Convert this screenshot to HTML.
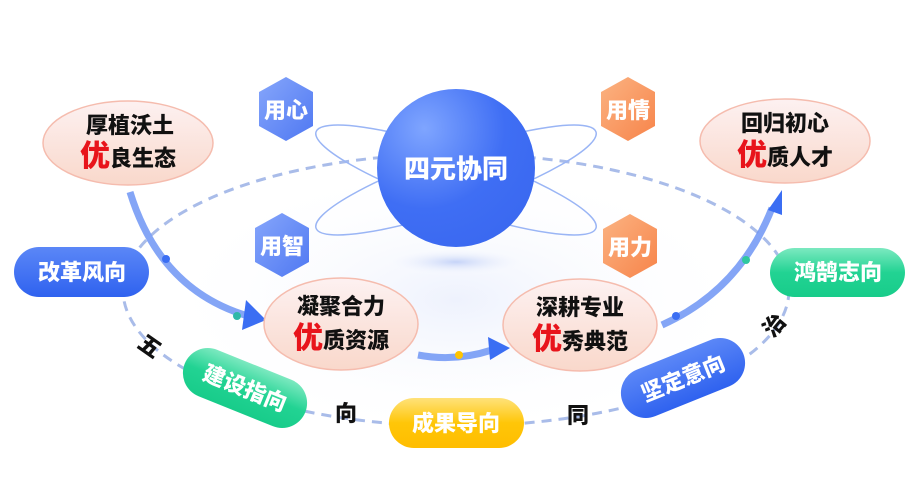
<!DOCTYPE html>
<html><head><meta charset="utf-8"><style>
html,body{margin:0;padding:0;background:#fff;}
svg{display:block;font-family:"Liberation Sans","Noto Sans CJK SC",sans-serif;font-weight:900;}
</style></head><body>
<svg width="919" height="482" viewBox="0 0 919 482" xmlns="http://www.w3.org/2000/svg">
<defs>
<linearGradient id="pink" x1="0" y1="0" x2="0" y2="1"><stop offset="0" stop-color="#fdf1f1"/><stop offset="1" stop-color="#f9d8cb"/></linearGradient>
<linearGradient id="hexb" x1="0" y1="0" x2="1" y2="1"><stop offset="0" stop-color="#86a6fb"/><stop offset="1" stop-color="#4f78f2"/></linearGradient>
<linearGradient id="hexo" x1="0" y1="0" x2="1" y2="1"><stop offset="0" stop-color="#fbb382"/><stop offset="1" stop-color="#f7844a"/></linearGradient>
<radialGradient id="circ" cx="0.3" cy="0.25" r="0.85"><stop offset="0" stop-color="#7fa5ff"/><stop offset="0.6" stop-color="#3f6ef4"/><stop offset="1" stop-color="#3a68f0"/></radialGradient>
<linearGradient id="pb" x1="0" y1="0" x2="0" y2="1"><stop offset="0" stop-color="#5b87f7"/><stop offset="1" stop-color="#2f62ef"/></linearGradient>
<linearGradient id="pg" x1="0" y1="0" x2="0" y2="1"><stop offset="0" stop-color="#7ce9c0"/><stop offset="0.5" stop-color="#22d393"/><stop offset="1" stop-color="#18cc8a"/></linearGradient>
<linearGradient id="py" x1="0" y1="0" x2="0" y2="1"><stop offset="0" stop-color="#ffe27a"/><stop offset="0.5" stop-color="#ffc608"/><stop offset="1" stop-color="#ffbd00"/></linearGradient>
<radialGradient id="glow" cx="0.5" cy="0.5" r="0.5"><stop offset="0" stop-color="#eef2fd"/><stop offset="1" stop-color="#ffffff" stop-opacity="0"/></radialGradient>
<radialGradient id="shad" cx="0.5" cy="0.5" r="0.5"><stop offset="0" stop-color="#c5d3f8"/><stop offset="1" stop-color="#ffffff" stop-opacity="0"/></radialGradient>
</defs>
<ellipse cx="456" cy="300" rx="300" ry="140" fill="url(#glow)"/>
<ellipse cx="456" cy="290" rx="333" ry="136" fill="none" stroke="#a9bce9" stroke-width="3" stroke-dasharray="10 7"/>
<ellipse cx="456" cy="262" rx="75" ry="14" fill="url(#shad)"/>
<ellipse cx="456" cy="180" rx="148" ry="28" transform="rotate(19 456 180)" fill="none" stroke="#9ab5f5" stroke-width="1.5"/>
<ellipse cx="456" cy="180" rx="148" ry="28" transform="rotate(-19 456 180)" fill="none" stroke="#9ab5f5" stroke-width="1.5"/>
<circle cx="456" cy="168" r="79" fill="url(#circ)"/>
<text x="456" y="178" font-size="26" fill="#fff" text-anchor="middle">四元协同</text>
<g>
<polygon points="286,77 313,92 313,126 286,141 259,126 259,92" fill="url(#hexb)"/>
<text x="286" y="118" font-size="22" fill="#fff" text-anchor="middle">用心</text>
<polygon points="282,213 309,228 309,262 282,277 255,262 255,228" fill="url(#hexb)"/>
<text x="282" y="254" font-size="22" fill="#fff" text-anchor="middle">用智</text>
<polygon points="628,77 655,92 655,126 628,141 601,126 601,92" fill="url(#hexo)"/>
<text x="628" y="118" font-size="22" fill="#fff" text-anchor="middle">用情</text>
<polygon points="630,214 657,229 657,263 630,278 603,263 603,229" fill="url(#hexo)"/>
<text x="630" y="255" font-size="22" fill="#fff" text-anchor="middle">用力</text>
</g>
<g fill="none" stroke="#6f95f5" stroke-width="7" stroke-opacity="0.85">
<path d="M130,192 Q160,290 248,316"/>
<path d="M418,355 Q455,362 492,350"/>
<path d="M662,325 Q740,290 772,208"/>
</g>
<polygon points="246,300 266,320 242,330" fill="#3b6ef3"/>
<polygon points="488,337 510,348 490,360" fill="#3b6ef3"/>
<polygon points="768,210 782,190 782,215" fill="#3b6ef3"/>
<circle cx="166" cy="259" r="4" fill="#3b6ef3"/>
<circle cx="237" cy="316" r="4" fill="#2fb8a8"/>
<circle cx="459" cy="355" r="4" fill="#ffc400"/>
<circle cx="676" cy="316" r="4" fill="#3b6ef3"/>
<circle cx="746" cy="260" r="4" fill="#2fc8a0"/>
<ellipse cx="128" cy="143" rx="85" ry="42" fill="url(#pink)" stroke="#f5bcae" stroke-width="1.5"/>
<text x="130" y="133" font-size="22" fill="#111" text-anchor="middle">厚植沃土</text>
<text x="128" y="166" font-size="22" fill="#111" text-anchor="middle"><tspan fill="#e8141b" font-size="30">优</tspan>良生态</text>
<ellipse cx="341" cy="324" rx="77" ry="46" fill="url(#pink)" stroke="#f5bcae" stroke-width="1.5"/>
<text x="341" y="314" font-size="22" fill="#111" text-anchor="middle">凝聚合力</text>
<text x="341" y="348" font-size="22" fill="#111" text-anchor="middle"><tspan fill="#e8141b" font-size="30">优</tspan>质资源</text>
<ellipse cx="580" cy="325" rx="77" ry="46" fill="url(#pink)" stroke="#f5bcae" stroke-width="1.5"/>
<text x="580" y="315" font-size="22" fill="#111" text-anchor="middle">深耕专业</text>
<text x="580" y="349" font-size="22" fill="#111" text-anchor="middle"><tspan fill="#e8141b" font-size="30">优</tspan>秀典范</text>
<ellipse cx="785" cy="141" rx="85" ry="42" fill="url(#pink)" stroke="#f5bcae" stroke-width="1.5"/>
<text x="785" y="131" font-size="22" fill="#111" text-anchor="middle">回归初心</text>
<text x="785" y="165" font-size="22" fill="#111" text-anchor="middle"><tspan fill="#e8141b" font-size="30">优</tspan>质人才</text>
<rect x="14" y="247" width="135" height="50" rx="25" fill="url(#pb)"/>
<text x="82" y="280" font-size="22" fill="#fff" text-anchor="middle">改革风向</text>
<rect x="770" y="248" width="135" height="49" rx="24.5" fill="url(#pg)"/>
<text x="838" y="280" font-size="22" fill="#fff" text-anchor="middle">鸿鹄志向</text>
<rect x="389" y="398" width="135" height="50" rx="25" fill="url(#py)"/>
<text x="456" y="431" font-size="22" fill="#fff" text-anchor="middle">成果导向</text>
<g transform="rotate(22 245 388)">
<rect x="180" y="363" width="130" height="50" rx="25" fill="url(#pg)"/>
<text x="245" y="396" font-size="22" fill="#fff" text-anchor="middle">建设指向</text>
</g>
<g transform="rotate(-22 683 378)">
<rect x="618" y="353" width="130" height="50" rx="25" fill="url(#pb)"/>
<text x="683" y="386" font-size="22" fill="#fff" text-anchor="middle">坚定意向</text>
</g>
<text x="150" y="354" font-size="22" fill="#111" text-anchor="middle" transform="rotate(35 150 346)">五</text>
<text x="346" y="421" font-size="22" fill="#111" text-anchor="middle">向</text>
<text x="578" y="423" font-size="22" fill="#111" text-anchor="middle">同</text>
<text x="774" y="333" font-size="22" fill="#111" text-anchor="middle" transform="rotate(-50 774 325)">治</text>
</svg>
</body></html>
